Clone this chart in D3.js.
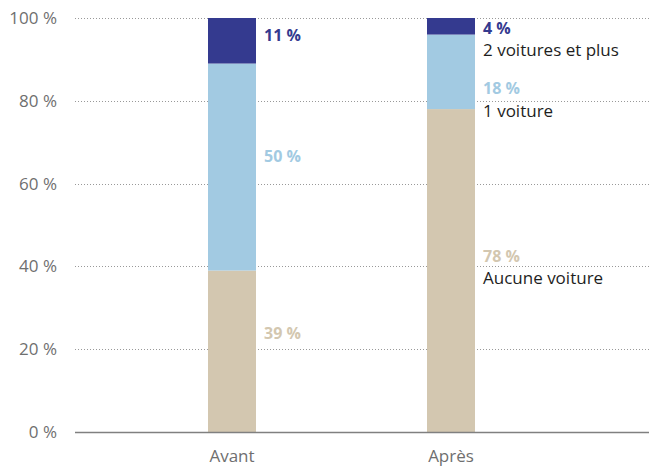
<!DOCTYPE html>
<html>
<head>
<meta charset="utf-8">
<script src="https://cdn.jsdelivr.net/npm/d3@7"></script>
<style>
  body { margin: 0; background: #fff; }
  text { font-family: "Open Sans", "Noto Sans", sans-serif; }
</style>
</head>
<body>
<svg width="649" height="466"></svg>
<script>
// data
var periods = ["Avant", "Après"];
var series = ["Aucune voiture", "1 voiture", "2 voitures et plus"];
var aucune = [39, 78];
var une = [50, 18];
var deuxPlus = [11, 4];
var yTicks = [0, 20, 40, 60, 80, 100];

var colors = ["#d3c7b0", "#a2cae2", "#343a8f"];

var svg = d3.select("svg"),
  width = +svg.attr("width"),
  height = +svg.attr("height");

var margin = {left: 75, right: 0, top: 18, bottom: 34};
var fs = 17;

var x = d3.scalePoint()
  .domain(periods)
  .range([232, 451]);
var barW = 48;

var y = d3.scaleLinear()
  .domain([0, 100])
  .range([height - margin.bottom, margin.top]);

// stack the rows
var rows = periods.map(function(p, i) {
  return {period: p, s0: aucune[i], s1: une[i], s2: deuxPlus[i]};
});
var stack = d3.stack().keys(["s0", "s1", "s2"]);
var layers = stack(rows);

// grid
svg.append("g")
  .selectAll("line")
  .data(yTicks.filter(d => d > 0))
  .enter().append("line")
  .attr("x1", margin.left)
  .attr("x2", width)
  .attr("y1", d => Math.round(y(d)) + 0.5)
  .attr("y2", d => Math.round(y(d)) + 0.5)
  .attr("stroke", "#999")
  .attr("stroke-width", 1)
  .attr("stroke-dasharray", "1,2");

// tick labels
svg.append("g")
  .selectAll("text")
  .data(yTicks)
  .enter().append("text")
  .attr("x", 57)
  .attr("y", d => y(d))
  .attr("dy", "0.35em")
  .attr("text-anchor", "end")
  .attr("fill", "#6f6f6f")
  .attr("font-size", fs)
  .text(d => d + " %");

// bars
svg.append("g")
  .selectAll("g")
  .data(layers)
  .enter().append("g")
  .attr("fill", (d, i) => colors[i])
  .selectAll("rect")
  .data(d => d)
  .enter().append("rect")
  .attr("x", d => x(d.data.period) - barW / 2)
  .attr("y", d => y(d[1]))
  .attr("width", barW)
  .attr("height", d => y(d[0]) - y(d[1]));

// baseline
svg.append("line")
  .attr("x1", margin.left)
  .attr("x2", width)
  .attr("y1", y(0) + 0.5)
  .attr("y2", y(0) + 0.5)
  .attr("stroke", "#808080")
  .attr("stroke-width", 1.5);

// category labels
svg.append("g")
  .selectAll("text")
  .data(periods)
  .enter().append("text")
  .attr("x", d => x(d))
  .attr("y", 462)
  .attr("text-anchor", "middle")
  .attr("fill", "#6f6f6f")
  .attr("font-size", fs)
  .text(d => d);

// value labels: Avant sits inside each segment span, Après is stacked with the series name
var lab = svg.append("g");
layers.forEach(function(layer, i) {
  // Avant
  var a = layer[0];
  var ay = y(a[1]) + (y(a[0]) - y(a[1])) * [0.39, 0.45, 0.39][i];
  lab.append("text")
    .attr("x", x("Avant") + barW / 2 + 8)
    .attr("y", ay)
    .attr("dy", "0.35em")
    .attr("fill", colors[i])
    .attr("font-size", fs - 1)
    .attr("font-weight", "bold")
    .text(rows[0][layer.key] + " %");

  // Après
  var b = layer[1];
  var by = [y(b[1]) + 147, y(b[1]) + 54, y(b[1]) + 10][i];
  lab.append("text")
    .attr("x", x("Après") + barW / 2 + 8)
    .attr("y", by)
    .attr("dy", "0.35em")
    .attr("fill", colors[i])
    .attr("font-size", fs - 1)
    .attr("font-weight", "bold")
    .text(rows[1][layer.key] + " %");
  lab.append("text")
    .attr("x", x("Après") + barW / 2 + 8)
    .attr("y", by + 22)
    .attr("dy", "0.35em")
    .attr("fill", "#1e1e1e")
    .attr("font-size", fs)
    .text(series[i]);
});
</script>
</body>
</html>
